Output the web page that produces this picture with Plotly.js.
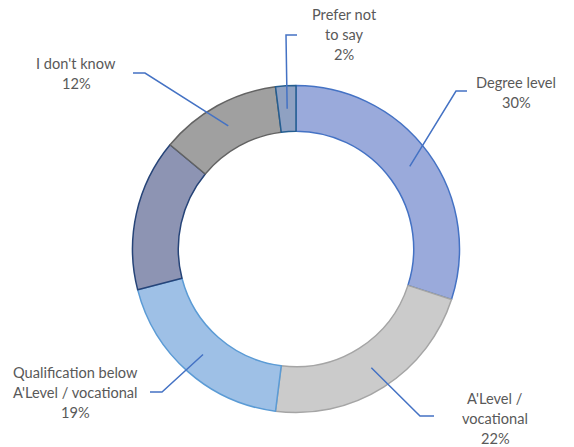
<!DOCTYPE html>
<html>
<head>
<meta charset="utf-8">
<script src="https://cdn.plot.ly/plotly-3.0.1.min.js"></script>
<style>html,body{margin:0;padding:0;background:#fff;}</style>
</head>
<body>
<div id="chart" style="width:574px;height:447px"></div>
<script>
// ---- data ----
const categories = ["Degree level", "A'Level / vocational", "Qualification below A'Level / vocational", "Other", "I don't know", "Prefer not to say"];
const values = [30, 22, 19, 15, 12, 2];
const labelLines = [["Degree level"], ["A'Level /", "vocational"], ["Qualification below", "A'Level / vocational"], null, ["I don't know"], ["Prefer not", "to say"]];

// ---- styles ----
const fillColors = ["#9AAADB", "#CBCBCB", "#9EC0E6", "#8D94B3", "#A0A0A0", "#8FA1C2"];
const lineColors = ["#4472C4", "#A5A5A5", "#5B9BD5", "#264478", "#636363", "#255E91"];
const W = 574, H = 447;
const cx = 296, cy = 249, R = 163.5, hole = 0.72;
const lineGap = 20;
// label layout in pixels: elbow point, horizontal end x, text centre
const labelLayout = [
  {ex: 456, ey: 91, hx: 467, tx: 516, ty: 92},
  {ex: 420, ey: 416, hx: 434, tx: 495, ty: 418},
  {ex: 162, ey: 392, hx: 150, tx: 75, ty: 392},
  null,
  {ex: 145, ey: 73, hx: 133, tx: 76, ty: 74},
  {ex: 286, ey: 35, hx: 297, tx: 344, ty: 35}
];

const px = x => x / W;
const py = y => 1 - y / H;

const total = values.reduce((a, b) => a + b, 0);
const rm = R * (1 + hole) / 2;
const annotations = [];
const shapes = [];
let cum = 0;
values.forEach((v, i) => {
  const mid = (cum + v / 2) / total * 2 * Math.PI;
  cum += v;
  const L = labelLayout[i];
  if (!L || !labelLines[i]) return;
  const ax = cx + rm * Math.sin(mid), ay = cy - rm * Math.cos(mid);
  shapes.push({
    type: 'path', xref: 'paper', yref: 'paper',
    path: `M ${px(ax)},${py(ay)} L ${px(L.ex)},${py(L.ey)} L ${px(L.hx)},${py(L.ey)}`,
    line: {color: '#4472C4', width: 1.5}
  });
  const pct = Math.round(v / total * 100) + '%';
  const lines = labelLines[i].concat([pct]);
  const n = lines.length;
  lines.forEach((t, k) => {
    annotations.push({
      xref: 'paper', yref: 'paper', x: px(L.tx), y: py(L.ty + (k - (n - 1) / 2) * lineGap),
      xanchor: 'center', yanchor: 'middle', showarrow: false, align: 'center',
      text: t,
      font: {family: 'Lato, sans-serif', size: 14.6, color: '#595959'}
    });
  });
});

const trace = {
  type: 'pie',
  labels: categories,
  values: values,
  sort: false,
  direction: 'clockwise',
  rotation: 0,
  hole: hole,
  textinfo: 'none',
  hoverinfo: 'label+percent',
  marker: {colors: fillColors, line: {color: lineColors, width: 1.5}},
  domain: {x: [px(cx - R), px(cx + R)], y: [py(cy + R), py(cy - R)]},
  showlegend: false
};

Plotly.newPlot('chart', [trace], {
  width: W, height: H,
  margin: {l: 0, r: 0, t: 0, b: 0},
  paper_bgcolor: '#ffffff',
  showlegend: false,
  annotations: annotations,
  shapes: shapes
}, {staticPlot: true});
</script>
</body>
</html>
